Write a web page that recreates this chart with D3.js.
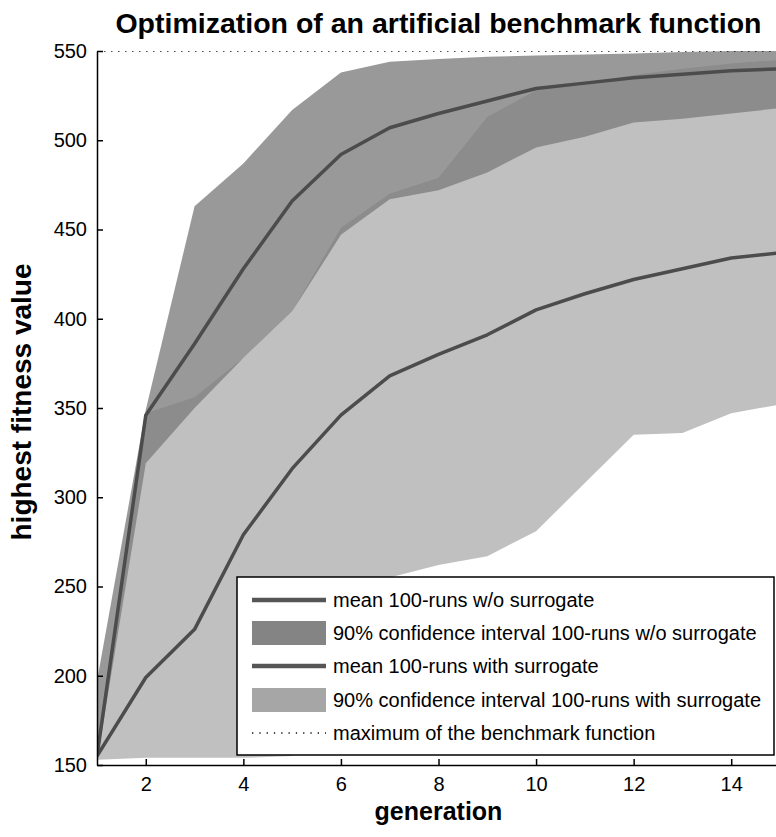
<!DOCTYPE html>
<html>
<head>
<meta charset="utf-8">
<title>Optimization of an artificial benchmark function</title>
<script src="https://d3js.org/d3.v7.min.js"></script>
<style>
  body { margin: 0; background: #fff; }
  svg { display: block; font-family: "Liberation Sans", Arial, sans-serif; }
</style>
</head>
<body>
<svg id="chart"></svg>
<script>
// generations (x values)
const generations = [1, 2, 3, 4, 5, 6, 7, 8, 9, 10, 11, 12, 13, 14, 15];

// runs without surrogate: mean and 90% interval
const meanWithout  = [155, 346, 386, 428, 466, 492, 507, 515, 522, 529, 532, 535, 537, 539, 540];
const lowerWithout = [152, 319, 350, 378, 404, 447, 467, 472, 482, 496, 502, 510, 512, 515, 518];
const upperWithout = [197, 349, 463, 487, 517, 538, 544, 545.5, 546.8, 547.5, 548, 548.6, 549.5, 550, 550];

// runs with surrogate: mean and 90% interval
const meanWith  = [155, 199, 226, 279, 316, 346, 368, 380, 391, 405, 414, 422, 428, 434, 437];
const lowerWith = [153, 154, 154, 154, 155, 225, 255, 262, 267, 281, 308, 335, 336, 347, 352];
const upperWith = [158, 347, 356, 378, 404, 451, 470, 479, 513, 528, 532, 536.5, 540, 543, 545];

const benchmarkMax = 550;

const xTicks = [2, 4, 6, 8, 10, 12, 14];
const yTicks = [150, 200, 250, 300, 350, 400, 450, 500, 550];

const legendLabels = [
    'mean 100-runs w/o surrogate',
    '90% confidence interval 100-runs w/o surrogate',
    'mean 100-runs with surrogate',
    '90% confidence interval 100-runs with surrogate',
    'maximum of the benchmark function'
];

const width = 776;
const height = 837;
const plotL = 97, plotR = 780, plotT = 51, plotB = 765;

const svg = d3.select('#chart')
    .attr('width', width)
    .attr('height', height);

const x = d3.scaleLinear().domain([1, 15]).range([plotL, plotR]);
const y = d3.scaleLinear().domain([150, 550]).range([plotB, plotT]);

svg.append('clipPath').attr('id', 'plot')
    .append('rect')
    .attr('x', plotL).attr('y', plotT)
    .attr('width', plotR - plotL).attr('height', plotB - plotT);

const plot = svg.append('g').attr('clip-path', 'url(#plot)');

const band = (lo, hi) => d3.area()
    .x((d, i) => x(generations[i]))
    .y0((d, i) => y(lo[i]))
    .y1((d, i) => y(hi[i]))(generations);

const meanLine = vals => d3.line()
    .x((d, i) => x(generations[i]))
    .y((d, i) => y(vals[i]))(generations);

// interval with surrogate first, the w/o interval is laid over it
plot.append('path')
    .attr('d', band(lowerWith, upperWith))
    .attr('fill', '#a5a5a5')
    .attr('fill-opacity', 0.7);

plot.append('path')
    .attr('d', band(lowerWithout, upperWithout))
    .attr('fill', '#7d7d7d')
    .attr('fill-opacity', 0.785);

// maximum of the benchmark function
plot.append('line')
    .attr('x1', plotL).attr('x2', plotR)
    .attr('y1', y(benchmarkMax)).attr('y2', y(benchmarkMax))
    .attr('stroke', '#111')
    .attr('stroke-width', 1.5)
    .attr('stroke-dasharray', '1.5,5.5');

// mean lines
[meanWithout, meanWith].forEach(vals => {
    plot.append('path')
        .attr('d', meanLine(vals))
        .attr('fill', 'none')
        .attr('stroke', '#4c4c4c')
        .attr('stroke-width', 3.5)
        .attr('stroke-linejoin', 'round');
});

// axes, ticks pointing inwards
const yAxis = svg.append('g')
    .attr('transform', `translate(${plotL},0)`)
    .call(d3.axisLeft(y).tickValues(yTicks).tickSizeInner(-6).tickSizeOuter(0).tickPadding(10));

const xAxis = svg.append('g')
    .attr('transform', `translate(0,${plotB})`)
    .call(d3.axisBottom(x).tickValues(xTicks).tickSizeInner(-6).tickSizeOuter(0).tickPadding(12));

[yAxis, xAxis].forEach(ax => {
    ax.attr('font-family', null).attr('font-size', null);
    ax.selectAll('path, line').attr('stroke', '#000').attr('stroke-width', 1.5);
    ax.selectAll('text').attr('fill', '#000').style('font-size', '20px');
});

// legend
const legend = svg.append('g');
const lgX = 237, lgY = 577, lgW = 537, lgH = 178;
legend.append('rect')
    .attr('x', lgX).attr('y', lgY)
    .attr('width', lgW).attr('height', lgH)
    .attr('fill', '#fff')
    .attr('stroke', '#000')
    .attr('stroke-width', 1.5);

const rowY = [600, 633, 666, 700, 733];
const sx0 = 252, sx1 = 326;

legendLabels.forEach((label, i) => {
    const cy = rowY[i];
    if (i === 0 || i === 2) {
        legend.append('line')
            .attr('x1', sx0).attr('x2', sx1)
            .attr('y1', cy).attr('y2', cy)
            .attr('stroke', '#555').attr('stroke-width', 4.5);
    } else if (i === 1 || i === 3) {
        legend.append('rect')
            .attr('x', sx0).attr('y', cy - 12)
            .attr('width', sx1 - sx0).attr('height', 24)
            .attr('fill', i === 1 ? '#848484' : '#a6a6a6');
    } else {
        legend.append('line')
            .attr('x1', sx0).attr('x2', sx1)
            .attr('y1', cy).attr('y2', cy)
            .attr('stroke', '#111').attr('stroke-width', 1.3)
            .attr('stroke-dasharray', '1.3,6');
    }
    legend.append('text')
        .attr('x', 333).attr('y', cy + 7)
        .style('font-size', '20px')
        .text(label);
});

// title and axis labels
svg.append('text')
    .attr('x', (plotL + plotR) / 2).attr('y', 33)
    .attr('text-anchor', 'middle')
    .style('font-size', '28.5px').style('font-weight', 'bold')
    .text('Optimization of an artificial benchmark function');

svg.append('text')
    .attr('x', (plotL + plotR) / 2).attr('y', 820)
    .attr('text-anchor', 'middle')
    .style('font-size', '25px').style('font-weight', 'bold')
    .text('generation');

svg.append('text')
    .attr('transform', 'translate(31,402) rotate(-90)')
    .attr('text-anchor', 'middle')
    .style('font-size', '28px').style('font-weight', 'bold')
    .text('highest fitness value');
</script>
</body>
</html>
